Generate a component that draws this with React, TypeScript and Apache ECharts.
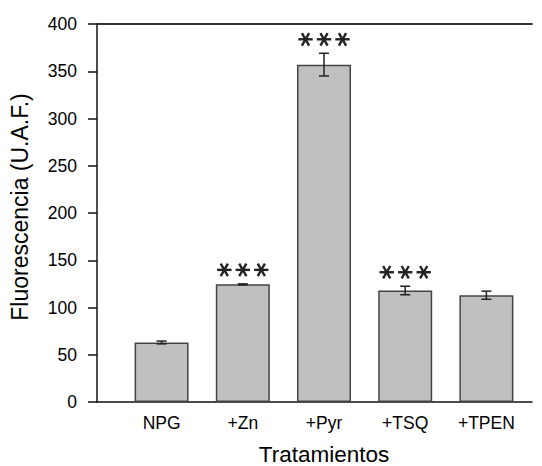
import React, { useEffect, useRef } from "react";
import * as echarts from "echarts";

const categories = ["NPG", "+Zn", "+Pyr", "+TSQ", "+TPEN"];
const means = [63, 124.5, 357, 118, 113];
const errors = [1.5, 0.5, 12, 4.5, 4.3];
const significance = ["", "***", "***", "***", ""];
const yTicks = { min: 0, max: 400, interval: 50 };

const FONT = "'Liberation Sans', Arial, Helvetica, sans-serif";

export default function App() {
  const ref = useRef<HTMLDivElement>(null);
  useEffect(() => {
    document.body.style.margin = "0";
    document.body.style.overflow = "hidden";
    if (!ref.current) return;
    const chart = echarts.init(ref.current, null, { renderer: "svg" });
    const errData = categories.map((c, i) => [i, means[i], errors[i]]);
    const option: any = {
      animation: false,
      textStyle: { fontFamily: FONT },
      grid: [
        { left: 97, right: 10, top: 24, bottom: 64, containLabel: false, outerBoundsMode: "none" },
        { left: 121, right: 15, top: 24, bottom: 64, containLabel: false, outerBoundsMode: "none" },
      ],
      xAxis: [
        {
          type: "value",
          gridIndex: 0,
          min: 0,
          max: 1,
          axisLine: { show: true, lineStyle: { color: "#111", width: 1.5 } },
          axisTick: { show: false },
          axisLabel: { show: false },
          splitLine: { show: false },
        },
        {
          type: "value",
          gridIndex: 0,
          position: "top",
          min: 0,
          max: 1,
          axisLine: { show: true, lineStyle: { color: "#333", width: 1.8 } },
          axisTick: { show: false },
          axisLabel: { show: false },
          splitLine: { show: false },
        },
        {
          type: "category",
          gridIndex: 1,
          data: categories,
          axisLine: { show: false },
          axisTick: { show: false },
          axisLabel: { color: "#000", fontSize: 17.5, margin: 12, fontFamily: FONT },
          name: "Tratamientos",
          nameLocation: "middle",
          nameGap: 41,
          nameTextStyle: { color: "#000", fontSize: 22.5, fontFamily: FONT },
        },
      ],
      yAxis: [
        {
          type: "value",
          gridIndex: 0,
          min: yTicks.min,
          max: yTicks.max,
          interval: yTicks.interval,
          axisLine: { show: true, lineStyle: { color: "#111", width: 1.5 } },
          axisTick: { show: true, length: 9, lineStyle: { color: "#111", width: 1.5 } },
          axisLabel: { color: "#000", fontSize: 17.5, margin: 20, fontFamily: FONT },
          splitLine: { show: false },
          name: "Fluorescencia (U.A.F.)",
          nameLocation: "middle",
          nameGap: 66,
          nameTextStyle: { color: "#000", fontSize: 23, fontFamily: FONT, padding: [0, 0, 0, 12] },
        },
        {
          type: "value",
          gridIndex: 1,
          min: yTicks.min,
          max: yTicks.max,
          show: false,
        },
      ],
      series: [
        {
          type: "bar",
          xAxisIndex: 2,
          yAxisIndex: 1,
          data: means,
          barWidth: 54,
          itemStyle: { color: "#c0c0c0", borderColor: "#444", borderWidth: 1.5 },
        },
        {
          type: "custom",
          xAxisIndex: 2,
          yAxisIndex: 1,
          data: errData,
          z: 5,
          renderItem: (params: any, api: any) => {
            const i = api.value(0);
            const m = api.value(1);
            const e = api.value(2);
            const top = api.coord([i, m + e]);
            const bot = api.coord([i, m - e]);
            const x = top[0];
            const hw = 5;
            const st = { stroke: "#222", lineWidth: 1.5 };
            const children: any[] = [
              { type: "line", shape: { x1: x, y1: top[1], x2: x, y2: bot[1] }, style: st },
              { type: "line", shape: { x1: x - hw, y1: top[1], x2: x + hw, y2: top[1] }, style: st },
              { type: "line", shape: { x1: x - hw, y1: bot[1], x2: x + hw, y2: bot[1] }, style: st },
            ];
            const sig = significance[params.dataIndex];
            if (sig) {
              const cy = top[1] - 14;
              const n = sig.length;
              const sp = 18.5;
              const r = 7.2;
              const dx = r * 0.5;
              const dy = r * 0.866;
              const sst = { stroke: "#222", lineWidth: 2.4 };
              for (let k = 0; k < n; k++) {
                const cx = x + (k - (n - 1) / 2) * sp;
                children.push(
                  { type: "line", shape: { x1: cx - r, y1: cy, x2: cx + r, y2: cy }, style: sst },
                  { type: "line", shape: { x1: cx - dx, y1: cy - dy, x2: cx + dx, y2: cy + dy }, style: sst },
                  { type: "line", shape: { x1: cx - dx, y1: cy + dy, x2: cx + dx, y2: cy - dy }, style: sst }
                );
              }
            }
            return { type: "group", children };
          },
        },
      ],
    };
    chart.setOption(option);
    return () => chart.dispose();
  }, []);
  return <div ref={ref} style={{ width: 542, height: 466 }} />;
}
